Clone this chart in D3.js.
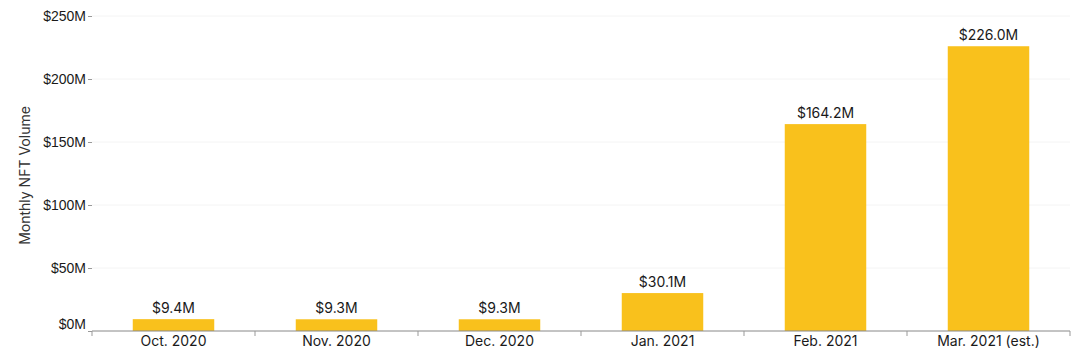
<!DOCTYPE html>
<html>
<head>
<meta charset="utf-8">
<script src="https://cdn.jsdelivr.net/npm/d3@7"></script>
<style>
  body { margin: 0; background: #fff; }
  svg { display: block; font-family: Inter, "Liberation Sans", Arial, sans-serif; }
</style>
</head>
<body>
<svg width="1080" height="362"></svg>
<script>
const months = ['Oct. 2020', 'Nov. 2020', 'Dec. 2020', 'Jan. 2021', 'Feb. 2021', 'Mar. 2021 (est.)'];
const volumes = [9.4, 9.3, 9.3, 30.1, 164.2, 226.0];
const yTicks = [0, 50, 100, 150, 200, 250];

const svg = d3.select('svg');
const margin = { top: 16, right: 10, bottom: 31, left: 92 };
const width = 1080 - margin.left - margin.right;
const height = 362 - margin.top - margin.bottom;

const g = svg.append('g').attr('transform', `translate(${margin.left},${margin.top})`);

const x = d3.scaleBand().domain(months).range([0, width]).paddingInner(0.5).paddingOuter(0.25);
const y = d3.scaleLinear().domain([0, 250]).range([height, 0]);

// faint gridlines
g.append('g')
  .selectAll('line')
  .data(yTicks.slice(1))
  .join('line')
  .attr('x1', 0)
  .attr('x2', width)
  .attr('y1', d => y(d))
  .attr('y2', d => y(d))
  .attr('stroke', '#f4f4f4');

// y axis
const yAxis = g.append('g')
  .call(d3.axisLeft(y).tickValues(yTicks).tickFormat(d => `$${d}M`).tickSize(4).tickPadding(2));
yAxis.select('.domain').remove();
yAxis.selectAll('.tick line').attr('stroke', '#999');
yAxis.selectAll('.tick text')
  .attr('font-size', 14)
  .attr('fill', '#1a1a1a')
  .attr('dy', d => d === 0 ? '-0.2em' : '0.3em');

// bars
g.selectAll('rect.bar')
  .data(volumes)
  .join('rect')
  .attr('class', 'bar')
  .attr('x', (d, i) => x(months[i]))
  .attr('y', d => y(d))
  .attr('width', x.bandwidth())
  .attr('height', d => height - y(d))
  .attr('fill', '#F9C11C');

// value labels
g.selectAll('text.val')
  .data(volumes)
  .join('text')
  .attr('class', 'val')
  .attr('x', (d, i) => x(months[i]) + x.bandwidth() / 2)
  .attr('y', d => y(d) - 6)
  .attr('text-anchor', 'middle')
  .attr('font-size', 14)
  .attr('fill', '#1a1a1a')
  .text(d => `$${d.toFixed(1)}M`);

// x axis with ticks at band edges
const xAxis = g.append('g').attr('transform', `translate(0,${height})`);
xAxis.append('line')
  .attr('x1', 0).attr('x2', width)
  .attr('stroke', '#888');
const step = width / months.length;
xAxis.selectAll('line.edge')
  .data(d3.range(months.length + 1))
  .join('line')
  .attr('class', 'edge')
  .attr('x1', i => i * step)
  .attr('x2', i => i * step)
  .attr('y1', 0).attr('y2', 5)
  .attr('stroke', '#999');
xAxis.selectAll('text')
  .data(months)
  .join('text')
  .attr('x', d => x(d) + x.bandwidth() / 2)
  .attr('y', 15)
  .attr('text-anchor', 'middle')
  .attr('font-size', 14)
  .attr('fill', '#1a1a1a')
  .text(d => d);

// y label
svg.append('text')
  .attr('transform', `translate(30,${margin.top + height / 2 + 2}) rotate(-90)`)
  .attr('text-anchor', 'middle')
  .attr('font-size', 14)
  .attr('fill', '#333')
  .text('Monthly NFT Volume');
</script>
</body>
</html>
